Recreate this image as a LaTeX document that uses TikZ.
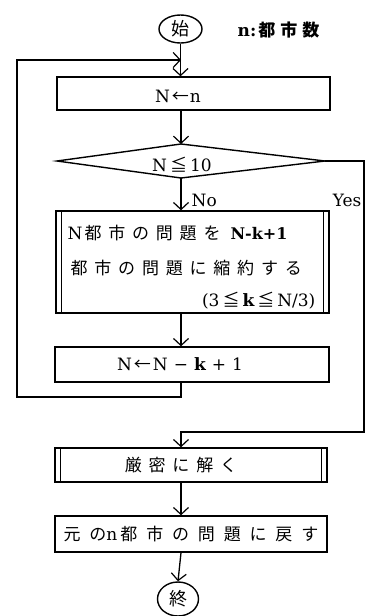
\documentclass[tikz,border=0pt]{standalone}
\usepackage{fontspec}
\setmainfont{DejaVu Serif}
\newfontfamily\jp[LetterSpace=40]{Noto Sans CJK JP}
\newfontfamily\jpw[LetterSpace=52]{Noto Sans CJK JP}
\newfontfamily\jpn{Noto Sans CJK JP}
\newfontfamily\jpl[LetterSpace=30]{Noto Sans CJK JP}
\newcommand{\larr}{{\jpn ←}}
\newcommand{\leqj}{{\jpn ≦}}
\usetikzlibrary{shapes.geometric,arrows.meta}
\begin{document}
\begin{tikzpicture}[x=1pt,y=-1pt,line width=1.3pt,
  box/.style={draw,line width=1.4pt,inner sep=0pt},
  term/.style={draw,ellipse,line width=1.4pt,inner sep=0pt,font=\fontsize{18}{20}\selectfont\jpn},
  arr/.style={-{Straight Barb[length=7pt,width=15pt,line width=1.2pt]}},
  lat/.style={inner sep=0pt,font=\fontsize{17}{20}\selectfont},
  jps/.style={inner sep=0pt,font=\fontsize{17}{20}\selectfont\jp}]
\useasboundingbox (0,0) rectangle (371,616);

% terminals
\node[term,minimum width=43pt,minimum height=28pt] (start) at (180.5,29) {始};
\node[term,minimum width=41pt,minimum height=34pt] (end) at (178,599) {終};
\node[inner sep=0pt,font=\fontsize{17}{18}\selectfont\bfseries,anchor=west] (note) at (237,30) {n:\hspace{2pt}{\jpl 都市数}};

% boxes
\node[box,minimum width=273pt,minimum height=33pt] (b1) at (193.5,93.5) {};
\node[lat] (t1) at (178,96) {N\hspace{2pt}\larr\hspace{1pt}n};

\coordinate (dT) at (181,144);
\coordinate (dL) at (57,161);
\coordinate (dR) at (325,161);
\coordinate (dB) at (181,178);
\draw[line width=1.4pt] (dT) -- (dR) -- (dB) -- (dL) -- cycle;
\node[lat] (t2) at (182,165) {N\hspace{3pt}\leqj\hspace{3pt}10};

\node[box,minimum width=273pt,minimum height=102pt] (b2) at (192.5,262) {};
\draw[line width=1.2pt] ([xshift=6pt]b2.north west) -- ([xshift=6pt]b2.south west);
\draw[line width=1.2pt] ([xshift=-6pt]b2.north east) -- ([xshift=-6pt]b2.south east);
\node[jps,anchor=west] (t3a) at (67,233) {{\fontsize{17}{20}\selectfont\rmfamily N}\hspace{2pt}都市の問題を\hspace{10pt}{\fontsize{16}{20}\selectfont\rmfamily\bfseries N-k+1}};
\node[jps,anchor=west] (t3b) at (70,268) {都市の問題に縮約する};
\node[lat,anchor=east] (t3c) at (316,301) {(3\hspace{3pt}\leqj\hspace{3pt}{\bfseries k}\hspace{3pt}\leqj\hspace{3pt}N/3)};

\node[box,minimum width=274pt,minimum height=35pt] (b3) at (192,364.5) {};
\node[lat] (t4) at (180,364) {N\hspace{2pt}\larr\hspace{2pt}N\hspace{6pt}−\hspace{6pt}{\bfseries k}\hspace{6pt}+\hspace{6pt}1};

\node[box,minimum width=272pt,minimum height=34pt] (b4) at (191,465) {};
\draw[line width=1.2pt] ([xshift=6pt]b4.north west) -- ([xshift=6pt]b4.south west);
\draw[line width=1.2pt] ([xshift=-6pt]b4.north east) -- ([xshift=-6pt]b4.south east);
\node[jps] (t5) at (181,465) {厳密に解く};

\node[box,minimum width=272pt,minimum height=36pt] (b5) at (191,534) {};
\node[inner sep=0pt,font=\fontsize{17}{20}\selectfont\jpw,anchor=west] (t6) at (63,534) {元の{\fontsize{17}{20}\selectfont\rmfamily n}\hspace{3pt}都市の問題に戻す};

% labels
\node[lat,anchor=west] (no) at (191,200) {No};
\node[lat,anchor=east] (yes) at (362,200) {Yes};

% connectors
\coordinate (lpJ) at (181,60);
\coordinate (lpT) at (17,60);
\coordinate (lpL) at (17,397);
\coordinate (lpB) at (181,397);
\coordinate (yR1) at (364,161);
\coordinate (yR2) at (364,432);
\coordinate (yJ) at (181,432);

\draw[arr] (start.south) -- (start.south |- b1.north);
\draw[arr] (b1.south -| dT) -- (dT);
\draw[arr] (dB) -- (dB |- b2.north);
\draw[arr] (b2.south -| dB) -- (b3.north -| dB);
\draw[arr] (b3.south -| lpB) -- (lpB) -- (lpL) -- (lpT) -- (lpJ);
\draw[arr] (dR) -- (yR1) -- (yR2) -- (yJ) -- (yJ |- b4.north);
\draw[arr] (b4.south -| yJ) -- (b5.north -| yJ);
\draw[arr] (b5.south -| yJ) -- (end.north);
\end{tikzpicture}
\end{document}
